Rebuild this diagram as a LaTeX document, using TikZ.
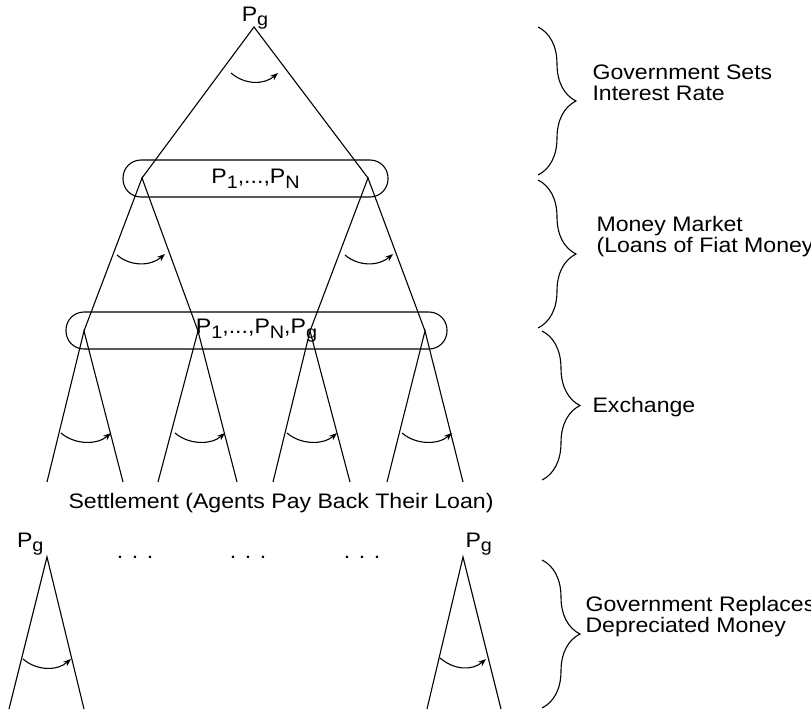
\documentclass[tikz,border=0pt]{standalone}
\usepackage{fontspec}
\setmainfont{Liberation Sans}[FakeStretch=1.1]
\usetikzlibrary{arrows.meta,decorations.pathreplacing}

\newcommand{\low}[1]{\raisebox{-0.22em}{\fontsize{18}{18}\selectfont #1}}

\tikzset{
	oval/.style		= {draw, rectangle, rounded corners=18pt, minimum height=37pt, inner sep=0pt},
	turn/.style		= {-{Stealth[length=8pt, width=6pt]}},
	bracket/.style	= {decorate, decoration={brace, amplitude=38pt}},
	caption/.style	= {anchor=base west, align=left, inner sep=0pt}
}

\begin{document}
\begin{tikzpicture}[x=1pt, y=-1pt, line width=1.1pt, font=\fontsize{21}{21}\selectfont]
\useasboundingbox (0,0) rectangle (811,715);

% game tree
\path	(254,27)	coordinate(gov)
		(142,178)	coordinate(mkt_a)
		(368,178)	coordinate(mkt_b)
		(84,331)	coordinate(ex_a)
		(198,331)	coordinate(ex_b)
		(310,331)	coordinate(ex_c)
		(425,331)	coordinate(ex_d)
		(47,482)	coordinate(leaf_a)
		(123,482)	coordinate(leaf_b)
		(158,482)	coordinate(leaf_c)
		(237,482)	coordinate(leaf_d)
		(273,482)	coordinate(leaf_e)
		(350,482)	coordinate(leaf_f)
		(387,482)	coordinate(leaf_g)
		(463,482)	coordinate(leaf_h);

\node(gov_label)	[anchor=base, inner sep=0pt]	at (255,21)	{P\low{g}};
\node(mkt_oval)		[oval, minimum width=265pt]	at (255.5,178.5)	{P\low{1},...,P\low{N}};
\node(ex_oval)		[oval, minimum width=381pt]	at (256.5,330.5)	{P\low{1},...,P\low{N},P\low{g}};

\draw	(mkt_a) -- (gov) -- (mkt_b);
\draw	(ex_a) -- (mkt_a) -- (ex_b);
\draw	(ex_c) -- (mkt_b) -- (ex_d);
\draw	(leaf_a) -- (ex_a) -- (leaf_b);
\draw	(leaf_c) -- (ex_b) -- (leaf_d);
\draw	(leaf_e) -- (ex_c) -- (leaf_f);
\draw	(leaf_g) -- (ex_d) -- (leaf_h);

\draw[turn]	([shift={(-23,46)}]gov)		.. controls +(14,12) and +(-14,12) ..	([shift={(24,46)}]gov);
\draw[turn]	([shift={(-25,77)}]mkt_a)	.. controls +(14,12) and +(-14,12) ..	([shift={(23,76)}]mkt_a);
\draw[turn]	([shift={(-23,77)}]mkt_b)	.. controls +(14,12) and +(-14,12) ..	([shift={(25,76)}]mkt_b);
\draw[turn]	([shift={(-23,102)}]ex_a)	.. controls +(14,12) and +(-14,12) ..	([shift={(27,102)}]ex_a);
\draw[turn]	([shift={(-23,102)}]ex_b)	.. controls +(14,12) and +(-14,12) ..	([shift={(27,102)}]ex_b);
\draw[turn]	([shift={(-23,102)}]ex_c)	.. controls +(14,12) and +(-14,12) ..	([shift={(27,102)}]ex_c);
\draw[turn]	([shift={(-23,102)}]ex_d)	.. controls +(14,12) and +(-14,12) ..	([shift={(27,102)}]ex_d);

\node(settle)	[anchor=base, inner sep=0pt]	at (281,508)	{Settlement (Agents Pay Back Their Loan)};

% replacement of depreciated money
\path	(47,557)	coordinate(rep_a)
		(463,557)	coordinate(rep_b)
		(9,709)		coordinate(rep_a_l)
		(84,709)	coordinate(rep_a_r)
		(427,709)	coordinate(rep_b_l)
		(501,709)	coordinate(rep_b_r);

\node(rep_a_label)	[anchor=base east, inner sep=0pt]	at (44,547)		{P\low{g}};
\node(rep_b_label)	[anchor=base west, inner sep=0pt]	at (465,547)	{P\low{g}};
\node(dots_a)		[anchor=base, inner sep=0pt]	at (135,558)	{. . .};
\node(dots_b)		[anchor=base, inner sep=0pt]	at (248,558)	{. . .};
\node(dots_c)		[anchor=base, inner sep=0pt]	at (362,558)	{. . .};

\draw	(rep_a_l) -- (rep_a) -- (rep_a_r);
\draw	(rep_b_l) -- (rep_b) -- (rep_b_r);
\draw[turn]	([shift={(-24,102)}]rep_a)	.. controls +(14,12) and +(-14,12) ..	([shift={(24,102)}]rep_a);
\draw[turn]	([shift={(-23,101)}]rep_b)	.. controls +(14,12) and +(-14,12) ..	([shift={(23,102)}]rep_b);

% stages
\draw[bracket]	(538,27) -- (538,175);
\draw[bracket]	(538,180) -- (538,328);
\draw[bracket]	(542,331) -- (542,480);
\draw[bracket]	(542,560) -- (542,708);

\node(stage_gov)	[caption]	at (592,100)	{Government Sets\\Interest Rate};
\node(stage_mkt)	[caption]	at (596,252)	{Money Market\\(Loans of Fiat Money)};
\node(stage_ex)		[caption]	at (592,412)	{Exchange};
\node(stage_rep)	[caption]	at (585,632)	{Government Replaces\\Depreciated Money};
\end{tikzpicture}
\end{document}
